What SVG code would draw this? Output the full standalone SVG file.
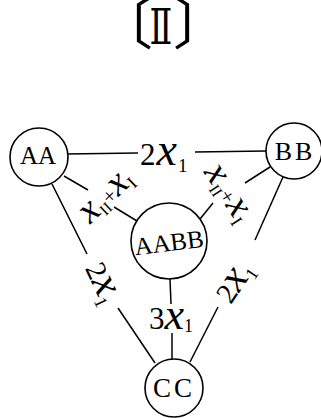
<svg xmlns="http://www.w3.org/2000/svg" width="321" height="418" viewBox="0 0 321 418">
<style>
.n{fill:#fff;stroke:#000;stroke-width:1.6}
.c line{stroke:#000;stroke-width:1.5}
.t{font-family:"Liberation Serif","DejaVu Serif",serif;fill:#000}
.x{font-style:italic}
.b{font-family:"Noto Sans CJK JP",sans-serif}
</style>
<rect width="321" height="418" fill="#fff"/>
<g id="title">
<text class="t b" x="125" y="44" font-size="56" text-anchor="middle">〔</text>
<text class="t" x="161" y="44" font-size="48" text-anchor="middle" transform="translate(161 0) scale(0.7 1) translate(-161 0)" style="font-family:'DejaVu Serif',serif">Ⅱ</text>
<text class="t b" x="201" y="44" font-size="56" text-anchor="middle">〕</text>
</g>
<g id="connectors" class="c">
<line x1="66" y1="154" x2="138" y2="153"/>
<line x1="195" y1="152" x2="266" y2="151"/>
<line x1="64" y1="176" x2="88" y2="190"/>
<line x1="114" y1="207" x2="137" y2="221"/>
<line x1="270" y1="167" x2="245" y2="183"/>
<line x1="213" y1="203" x2="200" y2="219"/>
<line x1="52" y1="184" x2="87" y2="254"/>
<line x1="118" y1="308" x2="155" y2="363"/>
<line x1="283" y1="177" x2="255" y2="240"/>
<line x1="218" y1="307" x2="190" y2="362"/>
<line x1="170" y1="279" x2="171" y2="304"/>
<line x1="172" y1="333" x2="172" y2="359"/>
</g>
<g id="labels">
<text class="t" x="140" y="165" font-size="31"><tspan>2</tspan><tspan class="x" font-size="46" dx="1">x</tspan><tspan font-size="19" dy="7" dx="1">1</tspan></text>
<text class="t" transform="translate(107 197) rotate(-44)" y="8" text-anchor="middle" font-size="38"><tspan class="x">x</tspan><tspan font-size="16" dy="5">II</tspan><tspan font-size="21" dy="-5">+</tspan><tspan class="x">x</tspan><tspan font-size="18" dy="5">I</tspan></text>
<text class="t" transform="translate(227 194) rotate(57)" y="8" text-anchor="middle" font-size="38"><tspan class="x">x</tspan><tspan font-size="16" dy="5">II</tspan><tspan font-size="21" dy="-5">+</tspan><tspan class="x">x</tspan><tspan font-size="18" dy="5">I</tspan></text>
<text class="t" transform="translate(101 284) rotate(65)" y="8" text-anchor="middle" font-size="29"><tspan>2</tspan><tspan class="x" font-size="42">x</tspan><tspan font-size="18" dy="6">1</tspan></text>
<text class="t" transform="translate(236 283) rotate(-56)" y="8" text-anchor="middle" font-size="29"><tspan>2</tspan><tspan class="x" font-size="42">x</tspan><tspan font-size="18" dy="6">1</tspan></text>
<text class="t" x="149" y="329" font-size="31"><tspan>3</tspan><tspan class="x" font-size="44">x</tspan><tspan font-size="18" dy="3">1</tspan></text>
</g>
<g id="AA"><circle class="n" cx="39" cy="157" r="29"/><text class="t" x="38" y="164" font-size="25" text-anchor="middle">AA</text></g>
<g id="BB"><circle class="n" cx="294" cy="151" r="28"/><text class="t" x="295" y="160" font-size="26" text-anchor="middle" letter-spacing="3">BB</text></g>
<g id="AABB"><circle class="n" cx="169" cy="241" r="38"/><text class="t" x="169" y="251" font-size="25" text-anchor="middle" transform="rotate(-7 169 243)">AABB</text></g>
<g id="CC"><circle class="n" cx="174" cy="388" r="29"/><text class="t" x="174" y="397" font-size="27" text-anchor="middle" letter-spacing="3">CC</text></g>
</svg>
